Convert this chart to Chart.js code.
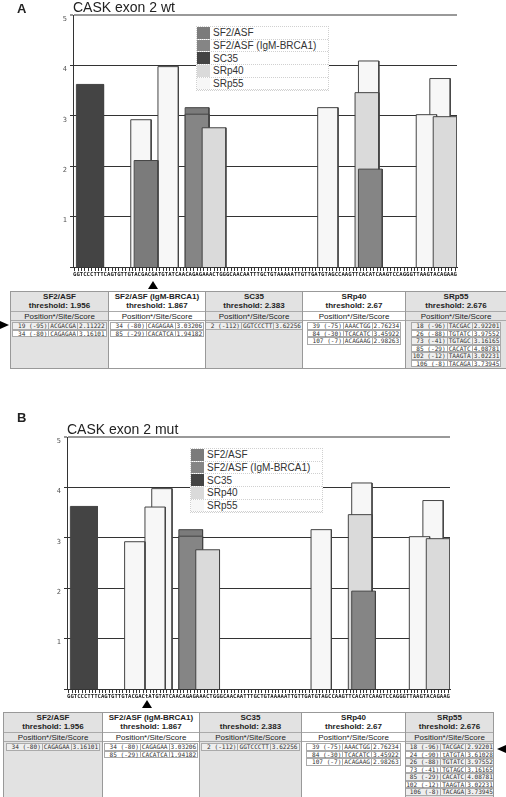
<!DOCTYPE html>
<html>
<head>
<meta charset="utf-8">
<script src="https://cdn.jsdelivr.net/npm/chart.js@4.4.0/dist/chart.umd.min.js"></script>
<style>
body { margin: 0; background: #fff; }
#page { position: relative; width: 506px; height: 797px; overflow: hidden; font-family: 'Liberation Sans', Arial, sans-serif; color: #222; }
.abs { position: absolute; z-index: 2; }
.panel { font-weight: bold; font-size: 13px; line-height: 13px; }
.title { font-size: 14px; line-height: 14px; white-space: nowrap; }
.legend { position: absolute; z-index: 2; width: 133px; background: #fff; border: 1px dotted #d0d0d0; box-sizing: border-box; }
.legend div { height: 12.7px; display: flex; align-items: center; border-bottom: 1px dotted #d0d0d0; box-sizing: border-box; font-size: 10px; color: #333; }
.legend .sw { width: 13px; height: 100%; margin-right: 3px; }
.tri { position: absolute; z-index: 2; width: 0; height: 0; }
.tbl { position: absolute; z-index: 2; display: flex; border: 1px solid #999; box-sizing: border-box; }
.col { border-right: 1px solid #999; box-sizing: border-box; overflow: hidden; }
.col:last-child { border-right: none; }
.hd { height: 19px; text-align: center; font-weight: bold; font-size: 8px; line-height: 8.5px; padding-top: 1px; box-sizing: border-box; }
.ph { height: 10px; text-align: center; font-size: 8px; line-height: 9px; border-top: 1px solid #aaa; border-bottom: 1px solid #aaa; box-sizing: border-box; }
.rows { padding-top: 1px; }
.row { display: flex; justify-content: center; height: 7.5px; }
.row span { font-family: 'DejaVu Sans Mono', monospace; font-size: 6.1px; line-height: 6.5px; white-space: pre; border: 1px solid #aaa; border-right: none; padding: 0 1px; color: #333; }
.row span:last-child { border-right: 1px solid #aaa; }
</style>
</head>
<body>
<div id="page">
  <div class="abs panel" style="left:17px;top:2px">A</div>
  <div class="abs title" style="left:73px;top:0px">CASK exon 2 wt</div>
  <canvas id="chartA" width="506" height="285" style="position:absolute;left:0;top:0"></canvas>
  <div class="legend" id="legA" style="left:196px;top:26px"></div>
  <div class="tri" style="left:148px;top:281px;border-left:5px solid transparent;border-right:5px solid transparent;border-bottom:8px solid #000"></div>
  <div class="tri" style="left:0px;top:321px;border-top:4px solid transparent;border-bottom:4px solid transparent;border-left:9px solid #000"></div>
  <div class="tbl" id="tabA" style="left:10px;top:291px;height:78px"></div>

  <div class="abs panel" style="left:17px;top:411px">B</div>
  <div class="abs title" style="left:67px;top:422px">CASK exon 2 mut</div>
  <canvas id="chartB" width="506" height="285" style="position:absolute;left:0;top:422px"></canvas>
  <div class="legend" id="legB" style="left:190px;top:448px"></div>
  <div class="tri" style="left:142px;top:700px;border-left:5px solid transparent;border-right:5px solid transparent;border-bottom:8px solid #000"></div>
  <div class="tri" style="left:497px;top:745px;border-top:4px solid transparent;border-bottom:4px solid transparent;border-right:9px solid #000"></div>
  <div class="tbl" id="tabB" style="left:3px;top:712px;height:90px"></div>
</div>
<script>
// sequence shown under the axis (113 nt), mutant has t at position 24
var seqWt = 'GGTCCCTTTCAGTGTTGTACGACGATGTATCAACAGAGAAACTGGGCAACAATTTGCTGTAAAAATTGTTGATGTAGCCAAGTTCACATCAAGTCCAGGGTTAAGTACAGAAG';
var seqMut = 'GGTCCCTTTCAGTGTTGTACGACtATGTATCAACAGAGAAACTGGGCAACAATTTGCTGTAAAAATTGTTGATGTAGCCAAGTTCACATCAAGTCCAGGGTTAAGTACAGAAG';

var factors = ['SF2/ASF', 'SF2/ASF (IgM-BRCA1)', 'SC35', 'SRp40', 'SRp55'];
var thresholds = ['1.956', '1.867', '2.383', '2.67', '2.676'];
var relOffset = 114;

// wild type
var wtPos = [[19, 34], [34, 85], [2], [39, 84, 107], [18, 26, 73, 85, 102, 106]];
var wtSite = [['ACGACGA', 'CAGAGAA'], ['CAGAGAA', 'CACATCA'], ['GGTCCCTT'],
              ['AAACTGG', 'TCACATC', 'ACAGAAG'],
              ['TACGAC', 'TGTATC', 'TGTAGC', 'CACATC', 'TAAGTA', 'TACAGA']];
var wtScore = [[2.11222, 3.16101], [3.03206, 1.94182], [3.62256],
               [2.76234, 3.45922, 2.98263],
               [2.92201, 3.97552, 3.16165, 4.08781, 3.02231, 3.73945]];

// mutant
var mutPos = [[34], [34, 85], [2], [39, 84, 107], [18, 24, 26, 73, 85, 102, 106]];
var mutSite = [['CAGAGAA'], ['CAGAGAA', 'CACATCA'], ['GGTCCCTT'],
               ['AAACTGG', 'TCACATC', 'ACAGAAG'],
               ['TACGAC', 'tATGTA', 'TGTATC', 'TGTAGC', 'CACATC', 'TAAGTA', 'TACAGA']];
var mutScore = [[3.16101], [3.03206, 1.94182], [3.62256],
                [2.76234, 3.45922, 2.98263],
                [2.92201, 3.61028, 3.97552, 3.16165, 4.08781, 3.02231, 3.73945]];

var fills = ['#7b7b7b', '#858585', '#444444', '#dadada', '#f7f7f7'];

function buildSets(pos, site, score) {
    var sets = [];
    pos.forEach(function (list, f) {
        list.forEach(function (p, i) {
            var len = site[f][i].length;
            var s = score[f][i];
            sets.push({
                label: factors[f],
                data: [{x: p - 0.5, y: 0}, {x: p - 0.5, y: s}, {x: p - 0.5 + len, y: s}, {x: p - 0.5 + len, y: 0}],
                backgroundColor: fills[f],
                borderColor: '#444',
                borderWidth: 1,
                fill: 'origin',
                pointRadius: 0,
                tension: 0,
                order: s   // taller bars sit behind
            });
        });
    });
    return sets;
}

function makeChart(id, seq, sets, left, right) {
    var ctx = document.getElementById(id).getContext('2d');
    return new Chart(ctx, {
        type: 'line',
        data: {datasets: sets},
        options: {
            animation: false,
            responsive: false,
            devicePixelRatio: 1,
            layout: {padding: {left: 0, right: 506 - right, top: 15, bottom: 0}},
            plugins: {legend: {display: false}, tooltip: {enabled: false}},
            events: [],
            scales: {
                x: {
                    type: 'linear', min: 0.5, max: seq.length + 0.5,
                    afterBuildTicks: function (s) {
                        s.ticks = seq.split('').map(function (c, i) { return {value: i + 1}; });
                    },
                    afterFit: function (s) { s.height = 18; },
                    ticks: {
                        autoSkip: false, maxRotation: 0, minRotation: 0, padding: 0,
                        font: {family: 'DejaVu Sans Mono', size: 5.6, weight: 'bold'}, color: '#222',
                        callback: function (v) { return seq[v - 1]; }
                    },
                    grid: {drawOnChartArea: false, tickLength: 4, color: '#333'},
                    border: {color: '#333'}
                },
                y: {
                    min: 0, max: 5,
                    afterFit: function (s) { s.width = left; },
                    ticks: {
                        stepSize: 1, labelOffset: 4, padding: 3,
                        font: {family: 'DejaVu Sans Mono', size: 7}, color: '#555',
                        callback: function (v) { return v === 0 ? '' : v; }
                    },
                    grid: {
                        tickLength: 3,
                        color: function (c) { return c.tick && c.tick.value === 5 ? '#999' : '#333'; },
                        lineWidth: function (c) { return c.tick && c.tick.value === 5 ? 2 : 1; }
                    },
                    border: {color: '#333'}
                }
            }
        }
    });
}

function buildLegend(id) {
    var el = document.getElementById(id);
    factors.forEach(function (name, f) {
        var d = document.createElement('div');
        d.innerHTML = '<span class="sw" style="background:' + fills[f] + '"></span>' + name;
        el.appendChild(d);
    });
}

function buildTable(id, pos, site, score, widths) {
    var el = document.getElementById(id);
    factors.forEach(function (name, f) {
        var bg = f % 2 === 0 ? '#e2e2e2' : '#fff';
        var col = document.createElement('div');
        col.className = 'col';
        col.style.width = widths[f] + 'px';
        col.style.background = bg;
        var html = '<div class="hd">' + name + '<br>threshold: ' + thresholds[f] + '</div>' +
                   '<div class="ph">Position*/Site/Score</div><div class="rows">';
        var w = Math.max.apply(null, site[f].map(function (s) { return s.length; }));
        pos[f].forEach(function (p, i) {
            var pr = p + ' (' + (p - relOffset) + ')';
            while (pr.length < 9) pr = ' ' + pr;
            var st = site[f][i];
            while (st.length < w) st += ' ';
            var rbg = (f % 2 === 0 && i % 2 === 0) ? '#eeeeee' : '#fff';
            html += '<div class="row"><span style="background:' + rbg + '">' + pr + '</span><span style="background:' + rbg + '">' + st +
                    '</span><span style="background:' + rbg + '">' + score[f][i].toFixed(5) + '</span></div>';
        });
        col.innerHTML = html + '</div>';
        el.appendChild(col);
    });
}

makeChart('chartA', seqWt, buildSets(wtPos, wtSite, wtScore), 73, 457);
makeChart('chartB', seqMut, buildSets(mutPos, mutSite, mutScore), 67, 450);
buildLegend('legA');
buildLegend('legB');
buildTable('tabA', wtPos, wtSite, wtScore, [98, 97, 97, 103, 100]);
buildTable('tabB', mutPos, mutSite, mutScore, [99, 97, 102, 104, 87]);
</script>
</body>
</html>
